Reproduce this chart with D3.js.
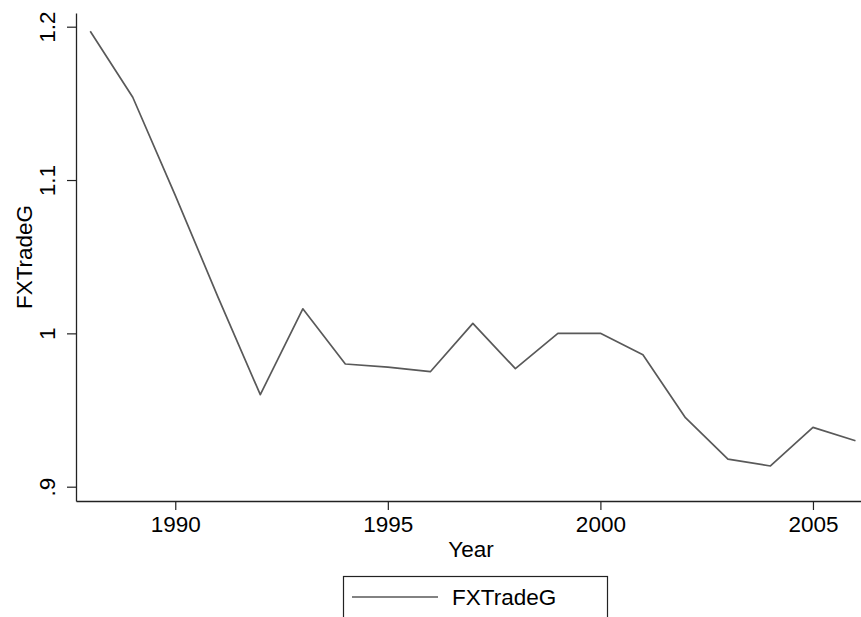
<!DOCTYPE html>
<html>
<head>
<meta charset="utf-8">
<script src="https://cdn.jsdelivr.net/npm/d3@7"></script>
<style>
  body { margin: 0; background: #fff; overflow: hidden; }
  svg { display: block; }
  text { font-family: "Liberation Sans", Arial, sans-serif; fill: #000; }
</style>
</head>
<body>
<svg width="861" height="617"></svg>
<script>
// data
const years = [1988, 1989, 1990, 1991, 1992, 1993, 1994, 1995, 1996, 1997,
               1998, 1999, 2000, 2001, 2002, 2003, 2004, 2005, 2006]
const fxTradeG = [1.197, 1.154, 1.090, 1.024, 0.960, 1.016, 0.980, 0.978, 0.975, 1.0065,
                  0.977, 1.000, 1.000, 0.986, 0.945, 0.918, 0.9135, 0.9387, 0.930]
const xTicks = [1990, 1995, 2000, 2005]
const yTicks = [0.9, 1.0, 1.1, 1.2]
const yTickLabels = ['.9', '1', '1.1', '1.2']
const seriesName = 'FXTradeG'

const svg = d3.select("svg")

// plot region (axis lines run along these edges)
const plot = { left: 76, right: 861, top: 13, bottom: 501 }
const fontSize = 22.5
const lineColor = '#595959'
const axisColor = '#222'

// scales: domain is a bit wider than the ticks so axes run past them
const xScale = d3.scaleLinear()
    .domain([1987.665, 2006.13])
    .range([plot.left, plot.right])

const yScale = d3.scaleLinear()
    .domain([0.89067, 1.20893])
    .range([plot.bottom, plot.top])

// x axis
const xAxisG = svg.append('g')
    .attr('transform', `translate(0,${plot.bottom})`)
    .call(d3.axisBottom(xScale).tickValues(xTicks).tickFormat(d3.format('d'))
        .tickSize(9).tickSizeOuter(0))
xAxisG.select('.domain').attr('stroke', axisColor).attr('stroke-width', 1.3)
xAxisG.selectAll('.tick line').attr('stroke', axisColor).attr('stroke-width', 1.2)
xAxisG.selectAll('.tick text')
    .attr('y', 15)
    .attr('dy', '0.71em')
    .style('font-size', fontSize + 'px')
xAxisG.attr('font-family', null).attr('font-size', null)

// y axis, labels turned sideways
const yAxisG = svg.append('g')
    .attr('transform', `translate(${plot.left},0)`)
    .call(d3.axisLeft(yScale).tickValues(yTicks).tickFormat((d, i) => yTickLabels[i])
        .tickSize(9).tickSizeOuter(0))
yAxisG.select('.domain').attr('stroke', axisColor).attr('stroke-width', 1.3)
yAxisG.selectAll('.tick line').attr('stroke', axisColor).attr('stroke-width', 1.2)
yAxisG.selectAll('.tick text')
    .attr('x', 0)
    .attr('y', -21)
    .attr('dy', 0)
    .attr('transform', 'rotate(-90)')
    .attr('text-anchor', 'middle')
    .style('font-size', fontSize + 'px')
yAxisG.attr('font-family', null).attr('font-size', null)

// axis titles
svg.append('text')
    .attr('x', 471)
    .attr('y', 557)
    .attr('text-anchor', 'middle')
    .style('font-size', fontSize + 'px')
    .text('Year')

svg.append('text')
    .attr('transform', `translate(32,${(plot.top + plot.bottom) / 2}) rotate(-90)`)
    .attr('text-anchor', 'middle')
    .style('font-size', fontSize + 'px')
    .text(seriesName)

// the line
const line = d3.line()
    .x((d, i) => xScale(years[i]))
    .y(d => yScale(d))

svg.append('path')
    .datum(fxTradeG)
    .attr('d', line)
    .attr('fill', 'none')
    .attr('stroke', lineColor)
    .attr('stroke-width', 1.7)
    .attr('stroke-linejoin', 'round')

// legend (box runs off the bottom edge)
svg.append('rect')
    .attr('x', 343.5).attr('y', 576.5)
    .attr('width', 264).attr('height', 60)
    .attr('fill', 'none')
    .attr('stroke', axisColor)
    .attr('stroke-width', 1.2)
svg.append('line')
    .attr('x1', 352).attr('x2', 438)
    .attr('y1', 597).attr('y2', 597)
    .attr('stroke', lineColor)
    .attr('stroke-width', 1.7)
svg.append('text')
    .attr('x', 452).attr('y', 605)
    .style('font-size', fontSize + 'px')
    .text(seriesName)
</script>
</body>
</html>
